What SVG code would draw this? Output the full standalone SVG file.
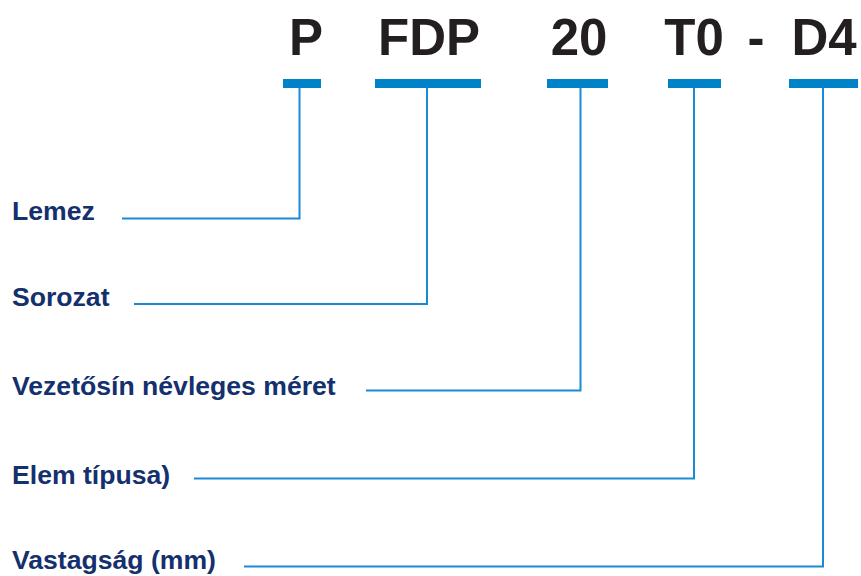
<svg xmlns="http://www.w3.org/2000/svg" width="861" height="576" viewBox="0 0 861 576">
<style>
.code{font-family:"Liberation Sans",Arial,sans-serif;font-weight:bold;font-size:51px;fill:#231f20;text-anchor:middle}
.bar{fill:#0082c9}
.lbl{font-family:"Liberation Sans",Arial,sans-serif;font-weight:bold;font-size:26.6px;fill:#14306d}
.con{fill:none;stroke:#1a8ad6;stroke-width:2}
</style>
<rect width="861" height="576" fill="#fff"/>
<g id="seg-P"><text class="code" x="306" y="55">P</text><rect class="bar" x="283" y="79" width="38" height="9"/></g>
<g id="seg-FDP"><text class="code" x="429" y="55">FDP</text><rect class="bar" x="375" y="79" width="106" height="9"/></g>
<g id="seg-20"><text class="code" x="579" y="55">20</text><rect class="bar" x="547" y="79" width="61" height="9"/></g>
<g id="seg-T0"><text class="code" x="694" y="55">T0</text><rect class="bar" x="668" y="79" width="53" height="9"/></g>
<g id="seg-dash"><text class="code" x="756" y="55">-</text></g>
<g id="seg-D4"><text class="code" x="824" y="55">D4</text><rect class="bar" x="789" y="79" width="69" height="9"/></g>
<g id="lbl-lemez"><text class="lbl" x="12" y="219.5">Lemez</text></g>
<g id="lbl-sorozat"><text class="lbl" x="12" y="306">Sorozat</text></g>
<g id="lbl-vezetosin"><text class="lbl" x="12" y="395">Vezetősín névleges méret</text></g>
<g id="lbl-elem"><text class="lbl" x="12" y="484">Elem típusa)</text></g>
<g id="lbl-vastagsag"><text class="lbl" x="12" y="569">Vastagság (mm)</text></g>
<g id="connectors">
<path class="con" d="M299.5 88 V218.5 H122"/>
<path class="con" d="M427 88 V304 H134"/>
<path class="con" d="M580.5 88 V390.5 H366"/>
<path class="con" d="M694 88 V478.5 H194"/>
<path class="con" d="M823 88 V566.5 H244"/>
</g>
</svg>
